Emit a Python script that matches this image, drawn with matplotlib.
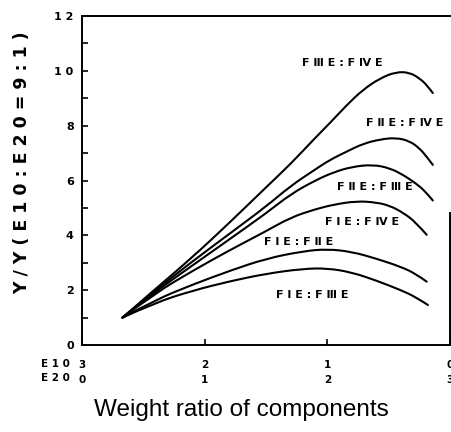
import matplotlib
matplotlib.use('Agg')
from matplotlib import pyplot as plt
from matplotlib.path import Path
from matplotlib.patches import PathPatch
from matplotlib.ticker import MultipleLocator

# weight ratio axis: amount of E20 in the E10/E20 blend (0..3)
t_c1 = [0.33, 0.6, 0.9, 1.2, 1.5, 1.7, 1.9, 2.02, 2.16, 2.29, 2.43, 2.56, 2.67, 2.75, 2.81, 2.86]
y_c1 = [1.0, 2.05, 3.2, 4.45, 5.75, 6.6, 7.55, 8.09, 8.76, 9.31, 9.73, 9.96, 9.94, 9.73, 9.49, 9.19]

t_c2 = [0.33, 0.6, 0.9, 1.2, 1.5, 1.7, 1.9, 2.02, 2.16, 2.29, 2.43, 2.56, 2.67, 2.75, 2.81, 2.86]
y_c2 = [1.0, 2.0, 3.05, 4.05, 5.05, 5.8, 6.4, 6.75, 7.06, 7.34, 7.5, 7.56, 7.44, 7.18, 6.87, 6.57]

t_c3 = [0.33, 0.6, 0.9, 1.2, 1.5, 1.7, 1.9, 2.05, 2.2, 2.37, 2.51, 2.62, 2.72, 2.8, 2.86]
y_c3 = [1.0, 1.95, 2.9, 3.85, 4.8, 5.5, 6.0, 6.3, 6.5, 6.58, 6.45, 6.2, 5.9, 5.6, 5.27]

t_c4 = [0.33, 0.6, 0.9, 1.2, 1.5, 1.7, 1.9, 2.05, 2.24, 2.4, 2.51, 2.62, 2.72, 2.81]
y_c4 = [1.0, 1.9, 2.7, 3.45, 4.15, 4.65, 4.95, 5.12, 5.25, 5.2, 5.08, 4.82, 4.48, 4.02]

t_c5 = [0.33, 0.6, 0.9, 1.2, 1.5, 1.8, 2.0, 2.2, 2.4, 2.6, 2.72, 2.81]
y_c5 = [1.0, 1.65, 2.2, 2.7, 3.15, 3.42, 3.5, 3.4, 3.15, 2.85, 2.6, 2.31]

t_c6 = [0.33, 0.6, 0.9, 1.2, 1.5, 1.8, 2.0, 2.2, 2.4, 2.6, 2.72, 2.82]
y_c6 = [1.0, 1.55, 1.98, 2.32, 2.6, 2.78, 2.8, 2.65, 2.35, 2.0, 1.75, 1.46]

curve_names = ['F Ⅲ E : F Ⅳ E', 'F Ⅱ E : F Ⅳ E', 'F Ⅱ E : F Ⅲ E',
               'F Ⅰ E : F Ⅳ E', 'F Ⅰ E : F Ⅱ E', 'F Ⅰ E : F Ⅲ E']

xtick_vals = [0, 1, 2, 3]
xtick_labels = ['3\n0', '2\n1', '1\n2', '0\n3']
ytick_vals = [0, 2, 4, 6, 8, 10, 12]
ytick_labels = ['0', '2', '4', '6', '8', '1 0', '1 2']


def smooth_path(t, y):
    # quadratic bezier through the midpoints, the read points act as controls
    pts = list(zip(t, y))
    verts = [pts[0]]
    codes = [Path.MOVETO]
    for i in range(1, len(pts) - 2):
        mid = ((pts[i][0] + pts[i+1][0]) / 2, (pts[i][1] + pts[i+1][1]) / 2)
        verts += [pts[i], mid]
        codes += [Path.CURVE3, Path.CURVE3]
    verts += [pts[-2], pts[-1]]
    codes += [Path.CURVE3, Path.CURVE3]
    return Path(verts, codes)


fig = plt.figure(figsize=(4.52, 4.32), dpi=100)
ax = fig.add_axes([82/452, 1 - 345/432, (450 - 82)/452, (345 - 16)/432])

curves = [(t_c1, y_c1), (t_c2, y_c2), (t_c3, y_c3),
          (t_c4, y_c4), (t_c5, y_c5), (t_c6, y_c6)]
for t, y in curves:
    ax.add_patch(PathPatch(smooth_path(t, y), fill=False, edgecolor='black',
                           linewidth=1.5, capstyle='round'))

# curve labels placed by hand, like in the original figure
label_pos = [(2.12, 10.3), (2.63, 8.1), (2.39, 5.77),
             (2.28, 4.49), (1.77, 3.76), (1.88, 1.82)]
for name, (lx, ly) in zip(curve_names, label_pos):
    ax.text(lx, ly, name, ha='center', va='center', fontsize=8,
            fontweight='bold', family='DejaVu Sans')

ax.set_xlim(0, 3)
ax.set_ylim(0, 12)
for s in ax.spines.values():
    s.set_linewidth(1.4)
ax.spines['right'].set_bounds(0, 4.8)

ax.set_yticks(ytick_vals)
ax.set_yticklabels(ytick_labels, fontsize=8, fontweight='bold')
ax.yaxis.set_minor_locator(MultipleLocator(1))
ax.set_xticks(xtick_vals)
ax.set_xticklabels(xtick_labels, fontsize=7.5, fontweight='bold',
                   linespacing=1.6)
ax.tick_params(axis='both', which='both', direction='in', length=4,
               width=1.2, right=False, top=False)
ax.tick_params(axis='y', pad=6)
ax.tick_params(axis='x', pad=11)

ax.text(-0.033, -0.079, 'E 1 0\nE 2 0', transform=ax.transAxes, ha='right',
        va='center', fontsize=7.5, fontweight='bold', linespacing=1.6)

fig.text(22/452, 1 - 163/432, 'Y / Y ( E 1 0 : E 2 0 = 9 : 1 )',
         rotation=90, ha='center', va='center', fontsize=12.5,
         fontweight='bold')
fig.text(241/452, 1 - 410/432, 'Weight ratio of components',
         ha='center', va='center', fontsize=17.5, family='Liberation Sans')

fig.savefig('out.png', dpi=100)
